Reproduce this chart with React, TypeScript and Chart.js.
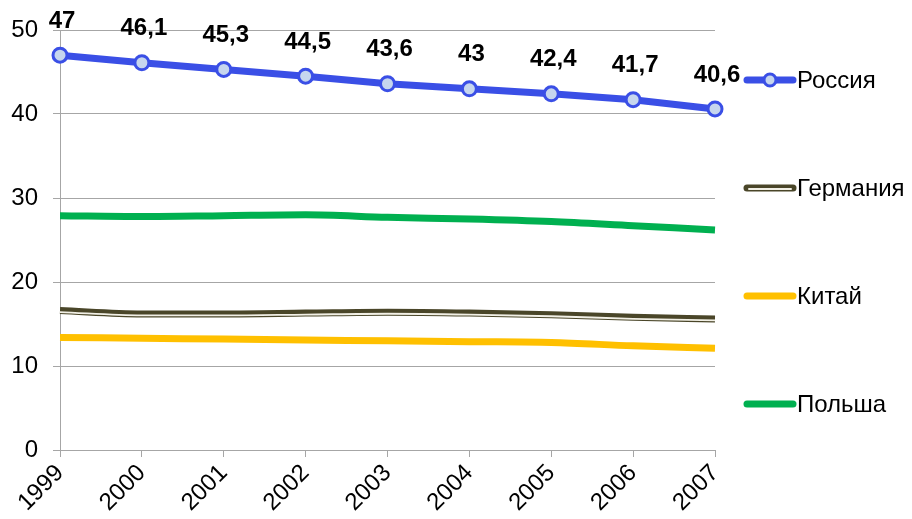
import React, { useEffect, useRef } from "react";
import { Chart, registerables } from "chart.js";

Chart.register(...registerables);

const years = ["1999", "2000", "2001", "2002", "2003", "2004", "2005", "2006", "2007"];
const russia = [47, 46.1, 45.3, 44.5, 43.6, 43, 42.4, 41.7, 40.6];
const germany = [16.6, 16.2, 16.2, 16.3, 16.4, 16.3, 16.1, 15.8, 15.6];
const china = [13.4, 13.3, 13.2, 13.1, 13.0, 12.9, 12.8, 12.4, 12.1];
const poland = [27.9, 27.8, 27.9, 28.0, 27.7, 27.5, 27.2, 26.7, 26.2];
const seriesNames = ["Россия", "Германия", "Китай", "Польша"];
const yMin = 0;
const yMax = 50;
const yStep = 10;

const FONT = "'Liberation Sans', Arial, sans-serif";
const BLUE = "#3a4fe6";
const MARKER_FILL = "#c6d6ee";
const GREEN = "#00b050";
const YELLOW = "#ffc000";
const OLIVE = "#4a4629";
const INNER = "#f2f0e6";
const GRID = "#a6a6a6";

const fmt = (v: number) => String(v).replace(".", ",");

export default function App() {
  const ref = useRef<HTMLCanvasElement>(null);

  useEffect(() => {
    const canvas = ref.current!;
    const labelsPlugin = {
      id: "valueLabels",
      afterDatasetsDraw(chart: any) {
        const ctx = chart.ctx;
        const meta = chart.getDatasetMeta(0);
        ctx.save();
        ctx.font = `bold 24px ${FONT}`;
        ctx.fillStyle = "#000";
        ctx.textAlign = "center";
        ctx.textBaseline = "middle";
        meta.data.forEach((pt: any, i: number) => {
          ctx.fillText(fmt(russia[i]), pt.x + 2, pt.y - 34);
        });
        ctx.restore();
      },
    };
    const shiftPlugin = {
      id: "shiftInner",
      beforeDatasetDraw(chart: any, args: any) {
        if (args.index === 2) {
          chart.ctx.save();
          chart.ctx.translate(0, 1.5);
        }
      },
      afterDatasetDraw(chart: any, args: any) {
        if (args.index === 2) chart.ctx.restore();
      },
    };
    const legendPlugin = {
      id: "customLegend",
      afterDraw(chart: any) {
        const ctx = chart.ctx;
        const x0 = 747;
        const x1 = 793;
        const ys = [80, 188, 296, 404];
        const colors = [BLUE, OLIVE, YELLOW, GREEN];
        ctx.save();
        ctx.lineCap = "round";
        seriesNames.forEach((name, i) => {
          const y = ys[i];
          ctx.beginPath();
          ctx.strokeStyle = colors[i];
          ctx.lineWidth = 7;
          ctx.moveTo(x0, y);
          ctx.lineTo(x1, y);
          ctx.stroke();
          if (i === 1) {
            ctx.beginPath();
            ctx.strokeStyle = INNER;
            ctx.lineWidth = 2;
            ctx.moveTo(x0 + 2, y + 1);
            ctx.lineTo(x1 - 2, y + 1);
            ctx.stroke();
          }
          if (i === 0) {
            ctx.beginPath();
            ctx.arc((x0 + x1) / 2, y, 6, 0, Math.PI * 2);
            ctx.fillStyle = MARKER_FILL;
            ctx.fill();
            ctx.lineWidth = 3;
            ctx.strokeStyle = BLUE;
            ctx.stroke();
          }
          ctx.fillStyle = "#000";
          ctx.font = `24px ${FONT}`;
          ctx.textAlign = "left";
          ctx.textBaseline = "middle";
          ctx.fillText(name, 797, y + 1);
        });
        ctx.restore();
      },
    };

    const chart = new Chart(canvas, {
      type: "line",
      data: {
        labels: years,
        datasets: [
          {
            label: seriesNames[0],
            data: russia,
            borderColor: BLUE,
            borderWidth: 7,
            pointRadius: 7,
            pointBorderWidth: 3,
            pointBackgroundColor: MARKER_FILL,
            pointBorderColor: BLUE,
            tension: 0,
            order: 0,
          },
          {
            label: seriesNames[1],
            data: germany,
            borderColor: OLIVE,
            borderWidth: 7,
            pointRadius: 0,
            cubicInterpolationMode: "monotone",
            order: 2,
          },
          {
            label: seriesNames[1] + "_inner",
            data: germany,
            borderColor: INNER,
            borderWidth: 1.8,
            pointRadius: 0,
            cubicInterpolationMode: "monotone",
            order: 1,
          },
          {
            label: seriesNames[2],
            data: china,
            borderColor: YELLOW,
            borderWidth: 7,
            pointRadius: 0,
            cubicInterpolationMode: "monotone",
            order: 3,
          },
          {
            label: seriesNames[3],
            data: poland,
            borderColor: GREEN,
            borderWidth: 7,
            pointRadius: 0,
            cubicInterpolationMode: "monotone",
            order: 4,
          },
        ],
      },
      options: {
        animation: false,
        responsive: false,
        maintainAspectRatio: false,
        layout: { padding: { left: 0, top: 30, right: 197, bottom: 0 } },
        plugins: {
          legend: { display: false },
          tooltip: { enabled: false },
        },
        scales: {
          x: {
            offset: false,
            grid: {
              drawOnChartArea: false,
              drawTicks: true,
              tickLength: 7,
              color: GRID,
            },
            border: { color: GRID },
            ticks: {
              minRotation: 45,
              maxRotation: 45,
              padding: 2,
              color: "#000",
              font: { family: FONT, size: 24 },
            },
            afterFit(scale: any) {
              scale.height = 69;
            },
          },
          y: {
            min: yMin,
            max: yMax,
            grid: { color: GRID, tickLength: 7 },
            border: { color: GRID },
            ticks: {
              stepSize: yStep,
              padding: 15,
              color: "#000",
              font: { family: FONT, size: 24 },
            },
            afterFit(scale: any) {
              scale.width = 60;
            },
          },
        },
      },
      plugins: [labelsPlugin, shiftPlugin, legendPlugin],
    });
    return () => chart.destroy();
  }, []);

  return (
    <div style={{ position: "fixed", left: 0, top: 0, width: 912, height: 519, background: "#fff" }}>
      <canvas ref={ref} width={912} height={519} style={{ width: 912, height: 519 }} />
    </div>
  );
}
